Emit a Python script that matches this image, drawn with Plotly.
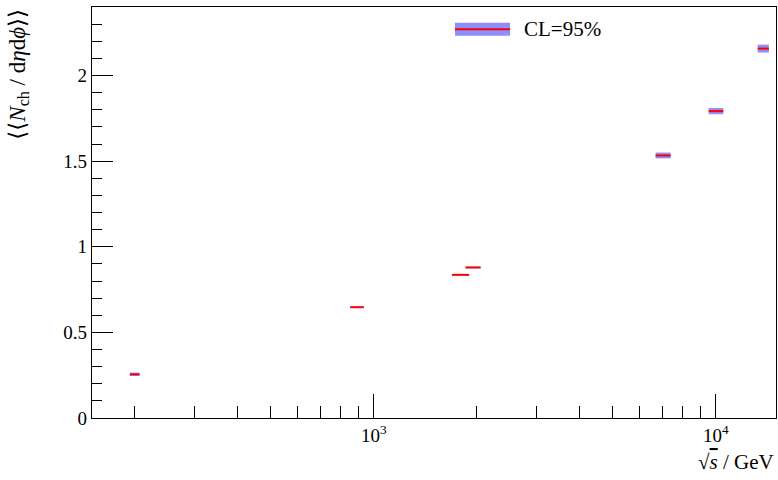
import plotly.graph_objects as go
import math

# Data: centre-of-mass energies (GeV), bin edges, values and CL=95% half-widths
energy = [200, 900, 1800, 1960, 7000, 10000, 14000]
x_low = [193.5, 853, 1692, 1855, 6670, 9530, 13260]
x_high = [206.5, 935, 1900, 2053, 7380, 10520, 14300]
value = [0.255, 0.647, 0.836, 0.879, 1.533, 1.792, 2.157]
err = [0.010, 0.004, 0.003, 0.005, 0.017, 0.018, 0.023]

x_tickvals = [1000, 10000]
x_ticktext = ["10<sup>3</sup>", "10<sup>4</sup>"]

band_color = "rgba(110,110,255,0.78)"
line_color = "#ff0000"
font_family = "Liberation Serif, DejaVu Serif, serif"

fig = go.Figure()
for lo, hi, v, e in zip(x_low, x_high, value, err):
    fig.add_trace(go.Scatter(
        x=[lo, hi, hi, lo, lo], y=[v - e, v - e, v + e, v + e, v - e],
        mode="lines", fill="toself", fillcolor=band_color,
        line=dict(width=0), hoverinfo="skip", showlegend=False))
    fig.add_trace(go.Scatter(
        x=[lo, hi], y=[v, v], mode="lines",
        line=dict(color=line_color, width=2), showlegend=False))

minor_x = [m * 10 ** d for d in (2, 3) for m in range(2, 10)]

fig.update_xaxes(
    type="log", range=[math.log10(150), math.log10(15000)],
    tickmode="array", tickvals=x_tickvals, ticktext=x_ticktext,
    ticks="inside", ticklen=24, tickwidth=1, tickcolor="black",
    minor=dict(tickmode="array", tickvals=minor_x, ticks="inside",
               ticklen=12, tickwidth=1, tickcolor="black", showgrid=False),
    showline=True, linecolor="black", linewidth=1.3, mirror=True,
    showgrid=False, zeroline=False,
    tickfont=dict(family=font_family, size=19, color="black"))

fig.update_yaxes(
    range=[0, 2.4], tick0=0, dtick=0.5,
    ticks="inside", ticklen=21, tickwidth=1, tickcolor="black",
    minor=dict(tick0=0, dtick=0.1, ticks="inside", ticklen=10, tickwidth=1,
               tickcolor="black", showgrid=False),
    showline=True, linecolor="black", linewidth=1.3, mirror=True,
    showgrid=False, zeroline=False,
    tickfont=dict(family=font_family, size=19, color="black"))

# Legend (manual)
fig.add_shape(type="rect", xref="paper", yref="paper",
              x0=0.5307, x1=0.6111, y0=0.930, y1=0.9616,
              fillcolor=band_color, line=dict(width=0))
fig.add_shape(type="line", xref="paper", yref="paper",
              x0=0.5307, x1=0.6111, y0=0.9458, y1=0.9458,
              line=dict(color=line_color, width=2))
fig.add_annotation(text="CL=95%", xref="paper", yref="paper",
                   x=0.628, y=0.9458, xanchor="left", yanchor="middle",
                   showarrow=False,
                   font=dict(family=font_family, size=21, color="black"))

# Axis titles
fig.add_annotation(text="⟨⟨<i>N</i><sub>ch</sub> / d<i>η</i>d<i>ϕ</i>⟩⟩",
                   xref="paper", yref="paper", x=-0.108, y=1.0,
                   xanchor="center", yanchor="top", textangle=-90,
                   showarrow=False,
                   font=dict(family=font_family, size=23, color="black"))
fig.add_annotation(text="√<span style='text-decoration:overline'><i>s</i></span> / GeV",
                   xref="paper", yref="paper", x=1.0, y=-0.108,
                   xanchor="right", yanchor="middle", showarrow=False,
                   font=dict(family=font_family, size=21, color="black"))

fig.update_layout(
    width=778, height=480,
    margin=dict(l=92, r=2, t=7, b=62),
    plot_bgcolor="white", paper_bgcolor="white",
    showlegend=False)

fig.write_html("out.html", config={"displayModeBar": False},
               post_script="document.body.style.margin='0';")
